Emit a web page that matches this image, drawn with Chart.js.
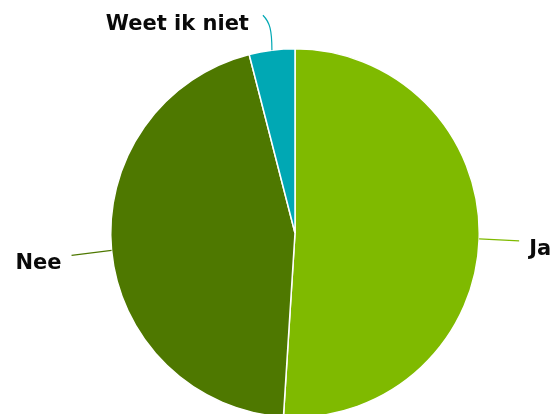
<!DOCTYPE html>
<html><head><meta charset="utf-8">
<script src="https://cdn.jsdelivr.net/npm/chart.js@4.4.0/dist/chart.umd.min.js"></script>
<style>html,body{margin:0;padding:0;overflow:hidden;background:#fff;width:559px;height:414px}
#wrap{position:absolute;left:0;top:0;width:559px;height:466px}</style>
</head><body><div id="wrap"><canvas id="c"></canvas></div>
<script>
const categories = ["Ja", "Nee", "Weet ik niet"];
const values = [51, 45, 4];
const colors = ["#7fba00", "#4e7800", "#00a8b4"];

const labelPlugin = {
  id: 'leaderLabels',
  afterDatasetsDraw(chart) {
    const ctx = chart.ctx;
    const meta = chart.getDatasetMeta(0);
    ctx.save();
    ctx.font = 'bold 21px "DejaVu Sans"';
    ctx.fillStyle = '#0a0a0a';
    ctx.lineWidth = 1.2;
    meta.data.forEach((arc, i) => {
      const mid = (arc.startAngle + arc.endAngle) / 2;
      const px = arc.x + Math.cos(mid) * arc.outerRadius;
      const py = arc.y + Math.sin(mid) * arc.outerRadius;
      ctx.strokeStyle = colors[i];
      ctx.beginPath();
      ctx.moveTo(px, py);
      if (Math.cos(mid) > 0.5) {
        ctx.lineTo(px + 40, py + 2);
        ctx.stroke();
        ctx.textAlign = 'left'; ctx.textBaseline = 'middle';
        ctx.fillText(categories[i], px + 50, py + 11);
      } else if (Math.cos(mid) < -0.5) {
        ctx.lineTo(px - 40, py + 5);
        ctx.stroke();
        ctx.textAlign = 'right'; ctx.textBaseline = 'middle';
        ctx.fillText(categories[i], px - 50, py + 13);
      } else {
        ctx.bezierCurveTo(px, py - 20, px - 2, py - 28, px - 9, py - 35);
        ctx.stroke();
        ctx.textAlign = 'right'; ctx.textBaseline = 'middle';
        ctx.fillText(categories[i], px - 23, py - 26);
      }
    });
    ctx.restore();
  }
};

new Chart(document.getElementById('c'), {
  type: 'pie',
  data: { labels: categories, datasets: [{ data: values, backgroundColor: colors, borderColor: '#ffffff', borderWidth: 1.5 }] },
  options: {
    responsive: true, maintainAspectRatio: false, animation: false,
    layout: { padding: { top: 48, bottom: 48, left: 31, right: 0 } },
    plugins: { legend: { display: false }, tooltip: { enabled: false } }
  },
  plugins: [labelPlugin]
});
</script></body></html>
